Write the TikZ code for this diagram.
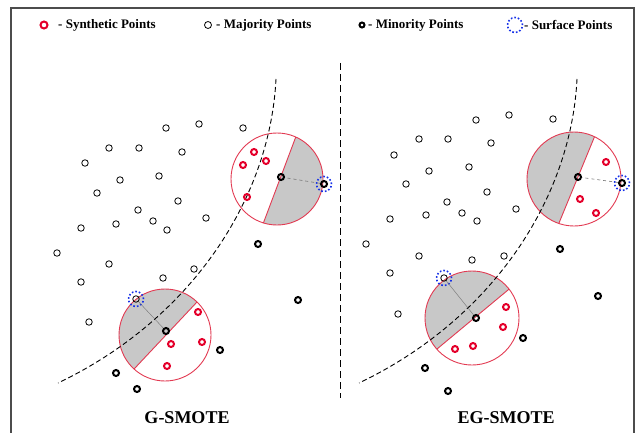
\documentclass[tikz,border=0pt]{standalone}
\usepackage{fontspec}
\setmainfont{Liberation Serif}
\usetikzlibrary{positioning}
\definecolor{synRed}{HTML}{E4002B}
\definecolor{ringRed}{HTML}{E23A52}
\definecolor{surfBlue}{HTML}{1530E8}
\definecolor{segGray}{HTML}{C8C8C8}
\tikzset{
  majority/.style={circle,draw=black,line width=0.8pt,inner sep=0pt,minimum size=6.5pt},
  minority/.style={circle,draw=black,line width=2pt,inner sep=0pt,minimum size=6pt},
  synthetic/.style={circle,draw=synRed,line width=2pt,inner sep=0pt,minimum size=6pt},
  surface/.style={circle,draw=surfBlue,dotted,line width=1.6pt,inner sep=0pt,minimum size=15pt},
  ring/.style={draw=ringRed,line width=0.9pt},
  link/.style={draw=black!55,dashed,line width=0.6pt},
  boundary/.style={draw=black,line width=0.9pt,dash pattern=on 5pt off 3pt},
  frame/.style={draw=black!70,line width=1.3pt},
  legendtext/.style={font=\bfseries\fontsize{13}{15}\selectfont,anchor=west,inner sep=0pt},
  paneltitle/.style={font=\bfseries\fontsize{18}{20}\selectfont}
}

\begin{document}
\begin{tikzpicture}[x=1pt,y=-1pt]
  \useasboundingbox (0,0) rectangle (639,433);
  \draw[frame] (11,433) -- (11,8) -- (634,8) -- (634,433);

  % legend
  \node[synthetic,minimum size=7pt] (lgSyn) at (44,25) {};
  \node[legendtext] (lgSynT) at (58,25) {- Synthetic Points};
  \node[majority,minimum size=7pt] (lgMaj) at (208,25) {};
  \node[legendtext] (lgMajT) at (216,25) {- Majority Points};
  \node[minority,minimum size=5pt] (lgMin) at (362,25) {};
  \node[legendtext] (lgMinT) at (368,25) {- Minority Points};
  \node[surface] (lgSurf) at (515,25) {};
  \node[legendtext] (lgSurfT) at (524,25) {- Surface Points};

  % divider
  \draw[draw=black,line width=0.9pt,dash pattern=on 7pt off 4pt] (340,63) -- (340,398);

  % G-SMOTE
  \coordinate (cL1) at (277,179);
  \coordinate (cL2) at (165,335);
  \begin{scope}
    \clip (cL1) circle[radius=46];
    \fill[segGray] (327,54) -- (400,54) -- (400,309) -- (231,309) -- cycle;
    \draw[ring] (327,54) -- (231,309);
  \end{scope}
  \begin{scope}
    \clip (cL2) circle[radius=46];
    \fill[segGray] (259,236) -- (73,434) -- (0,434) -- (0,200) -- (259,200) -- cycle;
    \draw[ring] (259,236) -- (73,434);
  \end{scope}
  \draw[ring] (cL1) circle[radius=46];
  \draw[ring] (cL2) circle[radius=46];
  \draw[boundary] (276,79) .. controls (270,200) and (190,320) .. (58,383);

  \foreach \x/\y [count=\i] in {166/128,199/124,243/128,109/148,139/148,182/152,85/163,
      120/180,159/176,97/193,178/201,138/210,206/218,81/228,116/224,153/221,167/230,
      57/253,109/264,194/269,81/282,163/278,89/322,136/299}
    \node[majority] (mjL\i) at (\x,\y) {};
  \foreach \x/\y [count=\i] in {281/177,324/184,258/244,298/300,166/331,220/350,116/373,137/389}
    \node[minority] (mnL\i) at (\x,\y) {};
  \foreach \x/\y [count=\i] in {254/152,243/165,266/161,247/197,198/312,171/344,202/342,167/366}
    \node[synthetic] (syL\i) at (\x,\y) {};
  \node[surface] (sfL1) at (mnL2) {};
  \node[surface] (sfL2) at (mjL24) {};
  \draw[link] (mnL2) -- (mnL1);
  \draw[link,solid,line width=0.4pt] (mjL24) -- (mnL5);

  % EG-SMOTE
  \coordinate (cR1) at (574,179);
  \coordinate (cR2) at (472,318);
  \begin{scope}
    \clip (cR1) circle[radius=47];
    \fill[segGray] (629,53) -- (524,308) -- (450,308) -- (450,53) -- cycle;
    \draw[ring] (629,53) -- (524,308);
  \end{scope}
  \begin{scope}
    \clip (cR2) circle[radius=47];
    \fill[segGray] (579,231) -- (366,408) -- (350,408) -- (350,220) -- (579,220) -- cycle;
    \draw[ring] (579,231) -- (366,408);
  \end{scope}
  \draw[ring] (cR1) circle[radius=47];
  \draw[ring] (cR2) circle[radius=47];
  \draw[boundary] (577,79) .. controls (571,200) and (491,320) .. (359,383);

  \foreach \x/\y [count=\i] in {476/120,509/115,553/119,419/139,448/139,491/143,394/155,
      429/171,469/167,406/184,487/192,447/202,516/209,426/215,462/213,477/221,390/219,
      366/244,419/256,472/260,504/256,390/273,398/314,444/278}
    \node[majority] (mjR\i) at (\x,\y) {};
  \foreach \x/\y [count=\i] in {578/177,622/183,560/249,598/296,476/318,523/338,425/368,448/391}
    \node[minority] (mnR\i) at (\x,\y) {};
  \foreach \x/\y [count=\i] in {606/162,580/199,596/213,506/307,503/327,473/346,455/349}
    \node[synthetic] (syR\i) at (\x,\y) {};
  \node[surface] (sfR1) at (mnR2) {};
  \node[surface] (sfR2) at (mjR24) {};
  \draw[link] (mnR2) -- (mnR1);
  \draw[link,solid,line width=0.4pt] (mjR24) -- (mnR5);

  \node[paneltitle] (ttL) at (187,418) {G-SMOTE};
  \node[paneltitle] (ttR) at (506,418) {EG-SMOTE};
\end{tikzpicture}
\end{document}
